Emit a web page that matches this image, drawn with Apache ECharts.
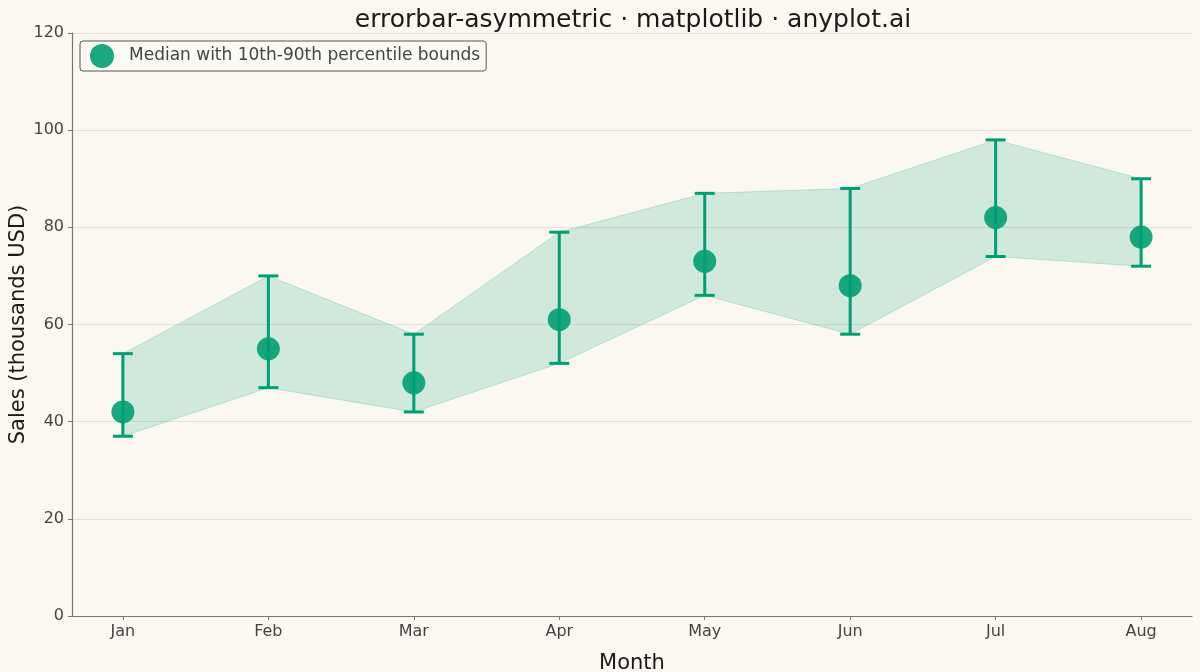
<!DOCTYPE html>
<html lang="en">
<head>
    <meta charset="UTF-8">
    <title>errorbar-asymmetric</title>
    <script src="https://cdn.jsdelivr.net/npm/echarts@6/dist/echarts.min.js"></script>
    <style>
        html, body { margin: 0; padding: 0; background: #FAF8F1; }
        #chart { width: 1200px; height: 672px; }
    </style>
</head>
<body>
<div id="chart"></div>
<script>
    // data --------------------------
    var months = ['Jan', 'Feb', 'Mar', 'Apr', 'May', 'Jun', 'Jul', 'Aug'];
    var median = [42, 55, 48, 61, 73, 68, 82, 78];
    var p10 = [37, 47, 42, 52, 66, 58, 74, 72];
    var p90 = [54, 70, 58, 79, 87, 88, 98, 90];
    var yTicks = [0, 20, 40, 60, 80, 100, 120];

    var green = '#009E73';
    var font = 'DejaVu Sans';

    var idx = months.map(function (m, i) { return i; });
    var medPts = median.map(function (v, i) { return [i, v]; });
    var errPts = median.map(function (v, i) { return [i, p10[i], p90[i]]; });

    // shaded band between 10th and 90th percentile, drawn once as a polygon
    function band(params, api) {
        if (params.dataIndex !== 0) return null;
        var pts = [];
        for (var i = 0; i < p90.length; i++) pts.push(api.coord([i, p90[i]]));
        for (var j = p10.length - 1; j >= 0; j--) pts.push(api.coord([j, p10[j]]));
        return {
            type: 'polygon',
            shape: { points: pts },
            style: { fill: 'rgba(0,158,115,0.16)', stroke: 'rgba(0,158,115,0.22)', lineWidth: 1 }
        };
    }

    function errorBar(params, api) {
        var x = api.value(0);
        var lo = api.coord([x, api.value(1)]);
        var hi = api.coord([x, api.value(2)]);
        var half = 10;
        var st = { stroke: green, lineWidth: 3 };
        return {
            type: 'group',
            children: [
                { type: 'line', shape: { x1: lo[0], y1: lo[1], x2: hi[0], y2: hi[1] }, style: st },
                { type: 'line', shape: { x1: lo[0] - half, y1: lo[1], x2: lo[0] + half, y2: lo[1] }, style: st },
                { type: 'line', shape: { x1: hi[0] - half, y1: hi[1], x2: hi[0] + half, y2: hi[1] }, style: st }
            ]
        };
    }

    var chart = echarts.init(document.getElementById('chart'));
    var option = {
        backgroundColor: '#FAF8F1',
        animation: false,
        title: {
            text: 'errorbar-asymmetric · matplotlib · anyplot.ai',
            left: 628,
            textAlign: 'center',
            top: 3,
            textStyle: { fontFamily: font, fontSize: 25, fontWeight: 'normal', color: '#1a1a1a' }
        },
        legend: {
            left: 80,
            top: 41,
            orient: 'vertical',
            data: ['Median with 10th-90th percentile bounds'],
            backgroundColor: '#FBF9F3',
            borderColor: '#555',
            borderWidth: 1,
            borderRadius: 3,
            padding: [3, 6, 3, 10],
            itemWidth: 24,
            itemHeight: 24,
            itemGap: 0,
            textStyle: { fontFamily: font, fontSize: 17, color: '#444', padding: [0, 0, 0, 10] }
        },
        grid: { left: 72, right: 8, top: 33, bottom: 56, outerBoundsMode: 'none' },
        xAxis: {
            type: 'value',
            min: -0.35,
            max: 7.35,
            name: 'Month',
            nameLocation: 'middle',
            nameGap: 37,
            nameTextStyle: { fontFamily: font, fontSize: 21, color: '#1a1a1a' },
            axisLine: { show: true, onZero: false, lineStyle: { color: '#777', width: 1.2 } },
            axisTick: { show: true, customValues: idx, length: 4, lineStyle: { color: '#777' } },
            axisLabel: {
                customValues: idx,
                formatter: function (v) { return months[Math.round(v)]; },
                fontFamily: font, fontSize: 16, color: '#444', margin: 8
            },
            splitLine: { show: false }
        },
        yAxis: {
            type: 'value',
            min: yTicks[0],
            max: yTicks[yTicks.length - 1],
            interval: 20,
            name: 'Sales (thousands USD)',
            nameLocation: 'middle',
            nameGap: 43,
            nameMoveOverlap: false,
            nameTextStyle: { fontFamily: font, fontSize: 21, color: '#1a1a1a' },
            axisLine: { show: true, onZero: false, lineStyle: { color: '#777', width: 1.2 } },
            axisTick: { show: true, length: 4, lineStyle: { color: '#777' } },
            axisLabel: { fontFamily: font, fontSize: 16, color: '#444', margin: 8 },
            splitLine: { show: true, lineStyle: { color: '#E4E1D9', width: 1 } }
        },
        series: [
            {
                name: 'band',
                type: 'custom',
                renderItem: band,
                data: medPts,
                z: 1
            },
            {
                name: 'errors',
                type: 'custom',
                renderItem: errorBar,
                data: errPts,
                encode: { x: 0, y: [1, 2] },
                z: 3
            },
            {
                name: 'Median with 10th-90th percentile bounds',
                type: 'scatter',
                data: medPts,
                symbol: 'circle',
                symbolSize: 23,
                itemStyle: { color: green, opacity: 0.9 },
                z: 4
            }
        ]
    };
    chart.setOption(option);
</script>
</body>
</html>
